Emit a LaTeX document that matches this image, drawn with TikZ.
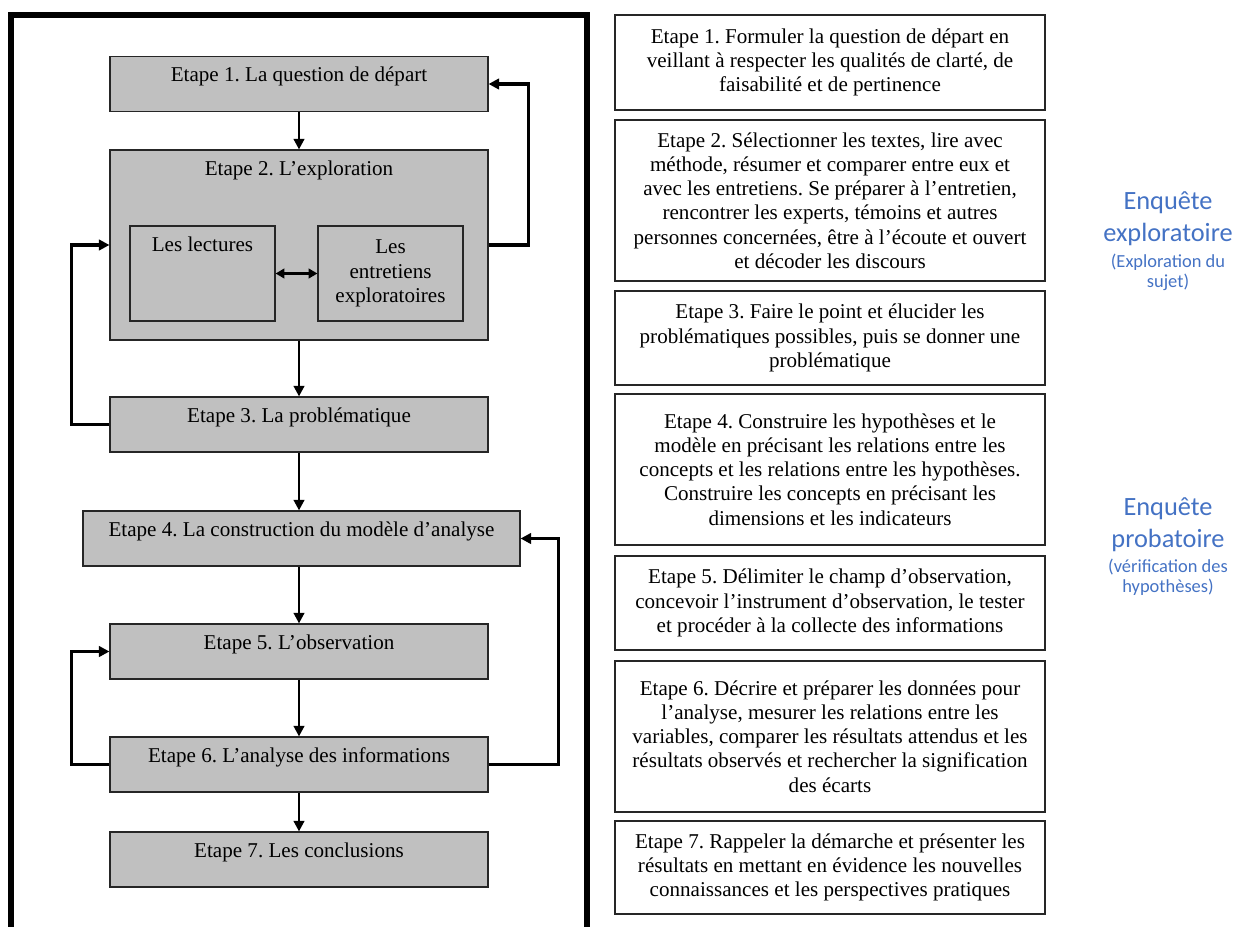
\documentclass[tikz,border=0pt]{standalone}
\usepackage{fontspec}
\setmainfont{Liberation Serif}
\newfontfamily\labelfont{Carlito}
\usetikzlibrary{arrows.meta}
\definecolor{boxgray}{RGB}{192, 192, 192}
\definecolor{enqblue}{RGB}{68, 114, 196}
\frenchspacing

\begin{document}
\begin{tikzpicture}[x=0.02cm, y=-0.02cm,
    etape/.style={draw=black!85, line width=0.7pt, fill=boxgray, minimum width=7.56cm, inner ysep=0pt, text height=0.5cm, text depth=0.6cm, font=\fontsize{12}{13.8}\selectfont},
    sub/.style={draw=black!85, line width=0.7pt, fill=boxgray, minimum width=2.9cm, minimum height=1.9cm, align=center, font=\fontsize{12}{13.8}\selectfont},
    desc/.style={draw=black!85, line width=0.8pt, minimum width=8.6cm, align=center, font=\fontsize{12}{13.8}\selectfont},
    enq/.style={align=center, text=enqblue, font=\labelfont\fontsize{15}{18.3}\selectfont},
    enqsub/.style={align=center, text=enqblue, font=\labelfont\fontsize{10.5}{11.3}\selectfont},
    arr/.style={-{Triangle[length=6pt,width=6pt]}, line width=1.4pt},
    back/.style={-{Triangle[length=6pt,width=6pt]}, line width=1.9pt}
  ]
    \useasboundingbox (0,0) rectangle (1236,926);
    % cadre de gauche
    \draw[line width=3.4pt] (11,940) -- (11,15) -- (587,15) -- (587,940);

    \node[etape] (q1) at (299,84) {Etape 1. La question de départ};
    \node[etape, text depth=3.3cm] (q2) at (299,245) {Etape 2. L’exploration};
    \node[sub, text height=0.5cm, text depth=1.4cm, inner ysep=0pt] (lect) at (202.5,273.5) {Les lectures};
    \node[sub] (entr) at (390.5,273.5) {Les\\entretiens\\exploratoires};
    \node[etape] (q3) at (299,424.5) {Etape 3. La problématique};
    \node[etape, minimum width=8.74cm] (q4) at (301.5,538.5) {Etape 4. La construction du modèle d’analyse};
    \node[etape] (q5) at (299,651.5) {Etape 5. L’observation};
    \node[etape] (q6) at (299,764.5) {Etape 6. L’analyse des informations};
    \node[etape] (q7) at (299,859.5) {Etape 7. Les conclusions};

    \draw[arr] (q1) -- (q2);
    \draw[arr] (q2) -- (q3);
    \draw[arr] (q3) -- (q3.south |- q4.north);
    \draw[arr] (q4.south -| q5) -- (q5);
    \draw[arr] (q5) -- (q6);
    \draw[arr] (q6) -- (q7);
    \draw[{Triangle[length=5pt,width=5.5pt]}-{Triangle[length=5pt,width=5.5pt]}, line width=1.2pt] (lect) -- (entr);

    % retours
    \draw[back] (q2.east) -- ++(40,0) |- (q1.east);
    \draw[back] (q3.west) -- ++(-38,0) |- (q2.west);
    \draw[back] (q6.west) -- ++(-38,0) |- (q5.west);
    \draw[back] (q6.east) -- ++(70,0) |- (q4.east);

    % descriptions
    \node[desc, minimum height=1.9cm] (d1) at (830,62.5) {Etape 1. Formuler la question de départ en\\veillant à respecter les qualités de clarté, de\\faisabilité et de pertinence};
    \node[desc, minimum height=3.22cm] (d2) at (830,200.5) {Etape 2. Sélectionner les textes, lire avec\\méthode, résumer et comparer entre eux et\\avec les entretiens. Se préparer à l’entretien,\\rencontrer les experts, témoins et autres\\personnes concernées, être à l’écoute et ouvert\\et décoder les discours};
    \node[desc, minimum height=1.88cm] (d3) at (830,338) {Etape 3. Faire le point et élucider les\\problématiques possibles, puis se donner une\\problématique};
    \node[desc, minimum height=3.02cm] (d4) at (830,469.5) {Etape 4. Construire les hypothèses et le\\modèle en précisant les relations entre les\\concepts et les relations entre les hypothèses.\\Construire les concepts en précisant les\\dimensions et les indicateurs};
    \node[desc, minimum height=1.88cm] (d5) at (830,603) {Etape 5. Délimiter le champ d’observation,\\concevoir l’instrument d’observation, le tester\\et procéder à la collecte des informations};
    \node[desc, minimum height=3.02cm] (d6) at (830,736.5) {Etape 6. Décrire et préparer les données pour\\l’analyse, mesurer les relations entre les\\variables, comparer les résultats attendus et les\\résultats observés et rechercher la signification\\des écarts};
    \node[desc, minimum height=1.86cm] (d7) at (830,867.5) {Etape 7. Rappeler la démarche et présenter les\\résultats en mettant en évidence les nouvelles\\connaissances et les perspectives pratiques};

    \node[enq] (explo) at (1168,218.5) {Enquête\\exploratoire};
    \node[enqsub] (explosub) at (1168,272.5) {(Exploration du\\sujet)};
    \node[enq] (proba) at (1168,524.5) {Enquête\\probatoire};
    \node[enqsub] (probasub) at (1168,577) {(vérification des\\hypothèses)};
  \end{tikzpicture}
\end{document}
